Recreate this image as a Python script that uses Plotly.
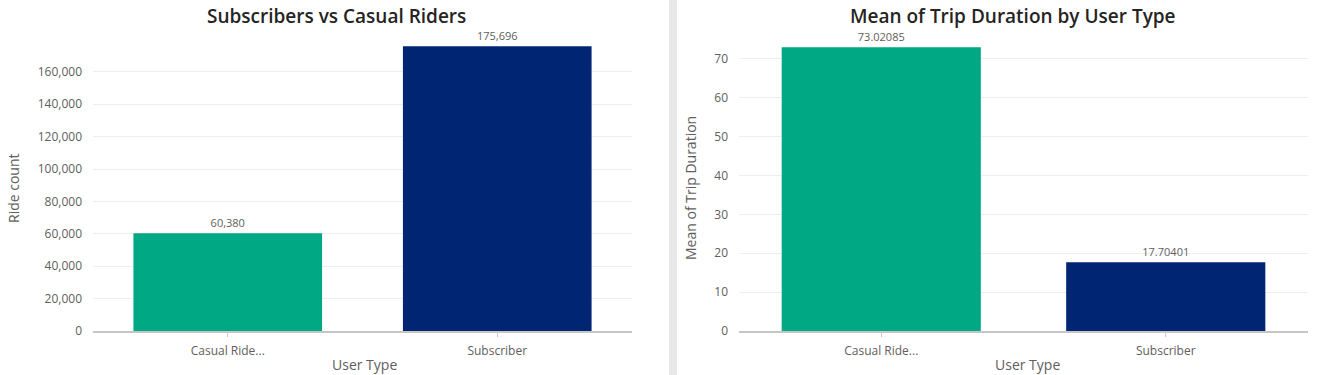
import plotly.graph_objects as go

categories = ["Casual Ride...", "Subscriber"]
ride_counts = [60380, 175696]
ride_labels = ["60,380", "175,696"]
mean_duration = [73.02085, 17.70401]
duration_labels = ["73.02085", "17.70401"]
bar_colors = ["#00A884", "#002673"]

W, H = 1343, 375
FONT = "Open Sans"
TICK_COLOR = "#605E5C"

fig = go.Figure()

fig.add_trace(go.Bar(
    x=categories, y=ride_counts, text=ride_labels, textposition="outside",
    marker=dict(color=bar_colors, line=dict(width=0)), width=0.70,
    textfont=dict(size=11, color="#605E5C", family=FONT),
    cliponaxis=False, xaxis="x", yaxis="y", showlegend=False,
))
fig.add_trace(go.Bar(
    x=categories, y=mean_duration, text=duration_labels, textposition="outside",
    marker=dict(color=bar_colors, line=dict(width=0)), width=0.70,
    textfont=dict(size=11, color="#605E5C", family=FONT),
    cliponaxis=False, xaxis="x2", yaxis="y2", showlegend=False,
))

def px_x(p):
    return p / W

def px_y(p):
    return 1 - p / H

ydom = [px_y(331), px_y(31)]

common_x = dict(
    showgrid=False, showline=True, linecolor="#C8C6C4", linewidth=1.5,
    ticks="outside", ticklen=4, tickcolor="#C8C6C4", ticklabelstandoff=4,
    tickfont=dict(size=12, color=TICK_COLOR, family=FONT), zeroline=False,
    fixedrange=True, automargin=False,
)
common_y = dict(
    showgrid=True, gridcolor="#EEEEEE", gridwidth=1, showline=False,
    zeroline=False, ticks="", tickfont=dict(size=12, color=TICK_COLOR, family=FONT),
    ticklabelstandoff=10, fixedrange=True, automargin=False,
)

fig.update_layout(
    width=W, height=H,
    margin=dict(l=0, r=0, t=0, b=0, autoexpand=False),
    paper_bgcolor="white", plot_bgcolor="white",
    bargap=0.3,
    xaxis=dict(domain=[px_x(93), px_x(632)], anchor="y", **common_x),
    yaxis=dict(domain=ydom, anchor="x", range=[0, 185185],
               tickvals=[0, 20000, 40000, 60000, 80000, 100000, 120000, 140000, 160000],
               tickformat=",d", **common_y),
    xaxis2=dict(domain=[px_x(739), px_x(1308)], anchor="y2", **common_x),
    yaxis2=dict(domain=ydom, anchor="x2", range=[0, 77.2],
                tickvals=[0, 10, 20, 30, 40, 50, 60, 70], **common_y),
    shapes=[
        dict(type="rect", xref="paper", yref="paper",
             x0=px_x(669), x1=px_x(677), y0=0, y1=1,
             fillcolor="#E8E8E8", line=dict(width=0), layer="below"),
    ],
    annotations=[
        dict(text="Subscribers vs Casual Riders", x=px_x(336), y=px_y(16),
             xref="paper", yref="paper", showarrow=False, xanchor="center", yanchor="middle",
             font=dict(size=19, color="#252423", family=FONT, weight=600)),
        dict(text="Mean of Trip Duration by User Type", x=px_x(1013), y=px_y(16),
             xref="paper", yref="paper", showarrow=False, xanchor="center", yanchor="middle",
             font=dict(size=19, color="#252423", family=FONT, weight=600)),
        dict(text="Ride count", x=px_x(13), y=px_y(188), textangle=-90,
             xref="paper", yref="paper", showarrow=False, xanchor="center", yanchor="middle",
             font=dict(size=14, color=TICK_COLOR, family=FONT)),
        dict(text="Mean of Trip Duration", x=px_x(690), y=px_y(188), textangle=-90,
             xref="paper", yref="paper", showarrow=False, xanchor="center", yanchor="middle",
             font=dict(size=14, color=TICK_COLOR, family=FONT)),
        dict(text="User Type", x=px_x(364), y=px_y(364),
             xref="paper", yref="paper", showarrow=False, xanchor="center", yanchor="middle",
             font=dict(size=14, color=TICK_COLOR, family=FONT)),
        dict(text="User Type", x=px_x(1027), y=px_y(364),
             xref="paper", yref="paper", showarrow=False, xanchor="center", yanchor="middle",
             font=dict(size=14, color=TICK_COLOR, family=FONT)),
    ],
)

fig.write_html(
    "out.html",
    config=dict(displayModeBar=False),
    post_script="document.body.style.margin='0px';",
)
